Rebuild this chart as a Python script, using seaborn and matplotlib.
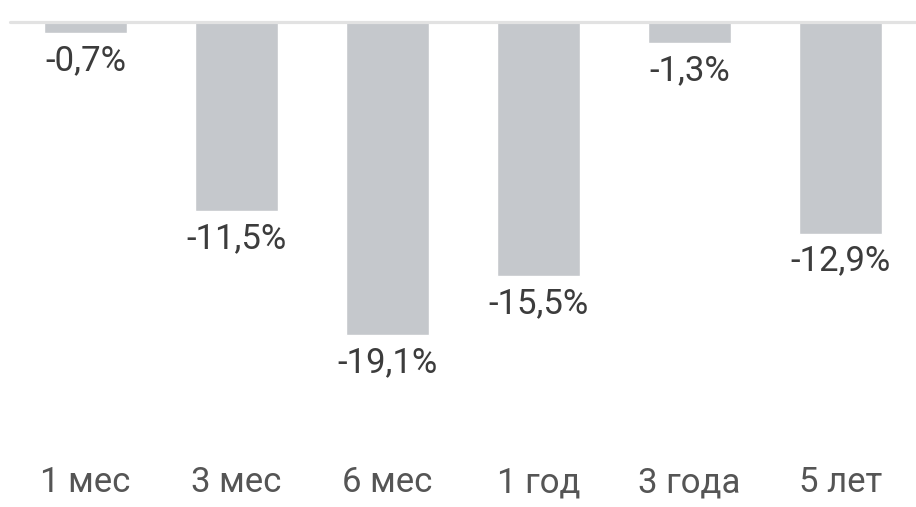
import matplotlib
matplotlib.use("Agg")
import matplotlib.pyplot as plt
import seaborn as sns

# ------------------------------------------------
# DATA
# ------------------------------------------------

periods = ["1 мес", "3 мес", "6 мес", "1 год", "3 года", "5 лет"]
returns = [-0.7, -11.5, -19.1, -15.5, -1.3, -12.9]

BAR_COLOR = "#c5c8cc"
VALUE_COLOR = "#3c3c3c"
TICK_COLOR = "#555555"

sns.set_theme(style="white")
plt.rcParams["font.family"] = ["Roboto", "DejaVu Sans"]

fig = plt.figure(figsize=(9.16, 5.07), dpi=100)
ax = fig.add_axes([0, 1 - 440 / 507, 1, 440 / 507])

sns.barplot(x=periods, y=returns, color=BAR_COLOR, saturation=1,
            width=0.55, ax=ax, zorder=2)

ax.axhline(0, xmin=10 / 916, xmax=1, color="#e2e2e2", linewidth=2.3, zorder=3)

for i, v in enumerate(returns):
    ax.annotate(f"{v:.1f}%".replace(".", ","), xy=(i, v), xytext=(0, -8),
                textcoords="offset points", ha="center", va="top",
                fontsize=25, color=VALUE_COLOR)

ax.set_xlim(-85.5 / 151, (916 - 85.5) / 151)
ax.set_ylim(-(440 - 22) / 16.4, 22 / 16.4)
ax.set_yticks([])
ax.set_xlabel("")
ax.set_ylabel("")
ax.tick_params(axis="x", length=0, pad=19, labelsize=25, labelcolor=TICK_COLOR)
sns.despine(ax=ax, left=True, bottom=True)

fig.savefig("out.png", dpi=100)
